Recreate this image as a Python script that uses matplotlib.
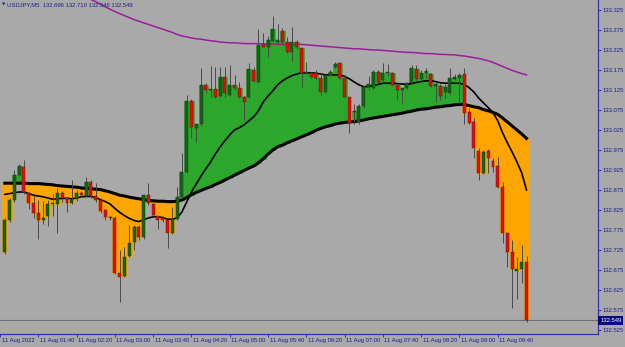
import matplotlib
matplotlib.use("Agg")
import matplotlib.pyplot as plt
import matplotlib.transforms as mtransforms
import numpy as np

# USDJPY M5, 11 Aug 2022, bars from 01:05 to 10:10
opens = [132.721, 132.800, 132.850, 132.912, 132.933, 132.867, 132.842, 132.818, 132.800, 132.810,
         132.840, 132.839, 132.867, 132.854, 132.842, 132.852, 132.867, 132.860, 132.896, 132.860,
         132.850, 132.825, 132.808, 132.804, 132.668, 132.660, 132.710, 132.746, 132.782, 132.757,
         132.862, 132.839, 132.810, 132.806, 132.800, 132.767, 132.802, 132.857, 132.921, 133.098,
         133.031, 133.040, 133.137, 133.125, 133.127, 133.110, 133.157, 133.112, 133.138, 133.130,
         133.107, 133.108, 133.175, 133.146, 133.239, 133.233, 133.248, 133.245, 133.273, 133.246,
         133.221, 133.244, 133.229, 133.167, 133.167, 133.167, 133.154, 133.119, 133.163, 133.183,
         133.192, 133.154, 133.107, 133.070, 133.046, 133.085, 133.132, 133.129, 133.171, 133.150,
         133.168, 133.167, 133.138, 133.125, 133.129, 133.142, 133.177, 133.152, 133.168, 133.165,
         133.135, 133.135, 133.121, 133.118, 133.152, 133.156, 133.165, 133.071, 133.046, 132.973,
         132.918, 132.973, 132.947, 132.935, 132.883, 132.767, 132.721, 132.673, 132.678, 132.696]
highs = [132.805, 132.855, 132.925, 132.940, 132.950, 132.870, 132.862, 132.850, 132.848, 132.850,
         132.865, 132.879, 132.872, 132.858, 132.900, 132.875, 132.872, 132.908, 132.900, 132.893,
         132.856, 132.828, 132.810, 132.810, 132.725, 132.733, 132.787, 132.788, 132.788, 132.866,
         132.892, 132.842, 132.810, 132.810, 132.800, 132.833, 132.883, 132.967, 133.113, 133.102,
         133.040, 133.179, 133.142, 133.185, 133.183, 133.182, 133.182, 133.188, 133.163, 133.146,
         133.110, 133.193, 133.183, 133.277, 133.268, 133.260, 133.310, 133.290, 133.279, 133.258,
         133.283, 133.250, 133.230, 133.196, 133.170, 133.175, 133.167, 133.165, 133.175, 133.195,
         133.195, 133.162, 133.108, 133.090, 133.090, 133.137, 133.160, 133.175, 133.175, 133.192,
         133.190, 133.170, 133.140, 133.130, 133.145, 133.187, 133.187, 133.175, 133.180, 133.167,
         133.145, 133.140, 133.140, 133.179, 133.165, 133.167, 133.179, 133.080, 133.054, 132.979,
         132.975, 132.978, 132.954, 132.957, 132.896, 132.770, 132.750, 132.708, 132.737, 132.710]
lows = [132.715, 132.795, 132.845, 132.910, 132.865, 132.827, 132.804, 132.752, 132.790, 132.785,
        132.810, 132.768, 132.845, 132.820, 132.840, 132.848, 132.858, 132.858, 132.855, 132.846,
        132.818, 132.800, 132.800, 132.665, 132.596, 132.658, 132.708, 132.725, 132.750, 132.752,
        132.838, 132.810, 132.777, 132.795, 132.729, 132.765, 132.800, 132.855, 132.918, 133.004,
        132.996, 133.035, 133.117, 133.108, 133.104, 133.107, 133.108, 133.110, 133.126, 133.104,
        133.050, 133.105, 133.145, 133.143, 133.232, 133.208, 133.246, 133.240, 133.242, 133.217,
        133.198, 133.228, 133.133, 133.165, 133.155, 133.150, 133.112, 133.117, 133.160, 133.180,
        133.150, 133.104, 133.018, 133.040, 133.040, 133.080, 133.125, 133.127, 133.143, 133.148,
        133.160, 133.135, 133.102, 133.093, 133.127, 133.140, 133.150, 133.150, 133.155, 133.132,
        133.096, 133.100, 133.105, 133.115, 133.150, 133.092, 133.040, 133.040, 132.954, 132.900,
        132.915, 132.918, 132.921, 132.879, 132.743, 132.683, 132.579, 132.602, 132.642, 132.546]
closes = [132.800, 132.850, 132.912, 132.935, 132.871, 132.842, 132.818, 132.800, 132.806, 132.839,
          132.842, 132.867, 132.854, 132.842, 132.850, 132.867, 132.862, 132.896, 132.860, 132.850,
          132.822, 132.808, 132.805, 132.667, 132.657, 132.708, 132.742, 132.783, 132.757, 132.862,
          132.842, 132.812, 132.800, 132.800, 132.767, 132.802, 132.857, 132.919, 133.098, 133.033,
          133.040, 133.137, 133.125, 133.127, 133.107, 133.157, 133.117, 133.138, 133.130, 133.107,
          133.096, 133.177, 133.148, 133.237, 133.233, 133.250, 133.277, 133.250, 133.246, 133.221,
          133.246, 133.232, 133.167, 133.170, 133.158, 133.155, 133.119, 133.163, 133.170, 133.190,
          133.154, 133.107, 133.042, 133.072, 133.085, 133.132, 133.140, 133.171, 133.146, 133.168,
          133.170, 133.138, 133.125, 133.129, 133.142, 133.179, 133.152, 133.168, 133.172, 133.135,
          133.140, 133.111, 133.133, 133.154, 133.158, 133.162, 133.068, 133.043, 132.979, 132.918,
          132.971, 132.954, 132.932, 132.883, 132.767, 132.719, 132.677, 132.677, 132.696, 132.549]

# moving averages
ma_fast = [132.864, 132.866, 132.868, 132.870, 132.870, 132.866, 132.862, 132.860, 132.858, 132.855,
           132.852, 132.853, 132.854, 132.854, 132.853, 132.855, 132.858, 132.859, 132.859, 132.856,
           132.851, 132.846, 132.840, 132.829, 132.819, 132.811, 132.804, 132.799, 132.796, 132.801,
           132.805, 132.808, 132.808, 132.806, 132.802, 132.802, 132.805, 132.820, 132.845, 132.870,
           132.890, 132.910, 132.928, 132.945, 132.965, 132.983, 132.998, 133.013, 133.025, 133.031,
           133.038, 133.048, 133.058, 133.073, 133.095, 133.110, 133.123, 133.138, 133.148, 133.155,
           133.161, 133.165, 133.168, 133.168, 133.168, 133.167, 133.165, 133.163, 133.163, 133.163,
           133.163, 133.159, 133.153, 133.145, 133.138, 133.133, 133.134, 133.136, 133.139, 133.142,
           133.142, 133.142, 133.141, 133.140, 133.139, 133.141, 133.144, 133.146, 133.148, 133.148,
           133.146, 133.143, 133.142, 133.142, 133.142, 133.142, 133.139, 133.131, 133.120, 133.105,
           133.093, 133.081, 133.068, 133.048, 133.018, 132.993, 132.970, 132.945, 132.918, 132.875]
ma_slow = [132.892, 132.892, 132.892, 132.892, 132.892, 132.891, 132.891, 132.891, 132.890, 132.889,
           132.888, 132.886, 132.885, 132.884, 132.883, 132.882, 132.880, 132.879, 132.878, 132.877,
           132.876, 132.873, 132.870, 132.866, 132.862, 132.860, 132.857, 132.855, 132.853, 132.851,
           132.849, 132.848, 132.847, 132.847, 132.846, 132.846, 132.847, 132.850, 132.856, 132.863,
           132.869, 132.874, 132.879, 132.883, 132.889, 132.894, 132.900, 132.906, 132.912, 132.918,
           132.924, 132.930, 132.935, 132.943, 132.953, 132.965, 132.975, 132.983, 132.987, 132.993,
           132.998, 133.003, 133.008, 133.013, 133.018, 133.024, 133.029, 133.033, 133.036, 133.040,
           133.042, 133.044, 133.045, 133.046, 133.048, 133.050, 133.053, 133.055, 133.057, 133.059,
           133.061, 133.063, 133.065, 133.067, 133.070, 133.072, 133.075, 133.077, 133.078, 133.080,
           133.082, 133.083, 133.085, 133.086, 133.088, 133.089, 133.089, 133.086, 133.083, 133.081,
           133.076, 133.073, 133.069, 133.064, 133.055, 133.045, 133.035, 133.025, 133.015, 133.004]
ma_long = [np.nan] * 15 + [
           133.370, 133.364, 133.357, 133.351, 133.346,
           133.339, 133.333, 133.327, 133.321, 133.316, 133.311, 133.306, 133.301, 133.297, 133.293,
           133.289, 133.285, 133.281, 133.277, 133.273, 133.269, 133.264, 133.260, 133.258, 133.255,
           133.253, 133.252, 133.250, 133.248, 133.247, 133.245, 133.244, 133.243, 133.243, 133.242,
           133.241, 133.241, 133.241, 133.241, 133.240, 133.240, 133.240, 133.239, 133.239, 133.239,
           133.239, 133.239, 133.239, 133.238, 133.237, 133.236, 133.235, 133.234, 133.233, 133.232,
           133.231, 133.230, 133.229, 133.228, 133.228, 133.227, 133.226, 133.225, 133.225, 133.224,
           133.223, 133.222, 133.221, 133.220, 133.219, 133.219, 133.218, 133.217, 133.216, 133.216,
           133.215, 133.214, 133.214, 133.213, 133.213, 133.211, 133.210, 133.208, 133.206, 133.204,
           133.201, 133.198, 133.194, 133.189, 133.184, 133.179, 133.174, 133.170, 133.166, 133.163]

price_ticks = [132.525, 132.575, 132.625, 132.675, 132.725, 132.775, 132.825, 132.875, 132.925,
               132.975, 133.025, 133.075, 133.125, 133.175, 133.225, 133.275, 133.325]
time_tick_bars = [-1, 7, 15, 23, 31, 39, 47, 55, 63, 71, 79, 87, 95, 103]
time_labels = ['11 Aug 2022', '11 Aug 01:40', '11 Aug 02:20', '11 Aug 03:00', '11 Aug 03:40',
               '11 Aug 04:20', '11 Aug 05:00', '11 Aug 05:40', '11 Aug 06:20', '11 Aug 07:00',
               '11 Aug 07:40', '11 Aug 08:20', '11 Aug 09:00', '11 Aug 09:40']
title = 'USDJPY,M5  132.696 132.710 132.546 132.549'

bg = '#A9A9A9'
navy = '#1E1E8C'
axis_blue = '#3333B0'
fnt = ['Liberation Sans Narrow', 'Liberation Sans', 'DejaVu Sans']
fs = 4.2

o = np.array(opens)
h = np.array(highs)
l = np.array(lows)
c = np.array(closes)
slow = np.array(ma_slow)
x = np.arange(len(c))

fig = plt.figure(figsize=(6.25, 3.47), dpi=100, facecolor=bg)
ax = fig.add_axes([0, 13 / 347, 598.3 / 625, 334 / 347])
ax.set_facecolor(bg)

# cloud histogram between the slow MA and the candle body
up = c > slow
top = np.where(up, np.maximum(o, c), np.minimum(o, c))
cols = np.where(up, '#2BA82B', '#FFA500')
ax.bar(x, top - slow, bottom=slow, width=1.0, color=cols, edgecolor=cols, linewidth=0.4, zorder=1)

ax.plot(x, ma_long, color='#9A1E9A', lw=1.1, zorder=2)
ax.plot(x, ma_slow, color='black', lw=2.2, zorder=2)
ax.plot(x, ma_fast, color='black', lw=1.2, zorder=2)

# candles
ax.vlines(x, l, h, color='#4A4A4A', lw=0.7, zorder=3)
body_col = np.where(c >= o, '#0B6B0B', '#FF0000')
body_h = np.maximum(np.abs(c - o), 0.0015)
ax.bar(x, body_h, bottom=np.minimum(o, c), width=0.62, color=body_col,
       edgecolor='#303030', linewidth=0.35, zorder=4)

# bid line
ax.axhline(closes[-1], color='#707070', lw=0.8, zorder=1)

ax.set_xlim(-0.43, 124.0)
ax.set_ylim(132.515, 133.35)

for s in ['top', 'left']:
    ax.spines[s].set_visible(False)
for s in ['right', 'bottom']:
    ax.spines[s].set_color(axis_blue)
    ax.spines[s].set_linewidth(0.9)

ax.yaxis.tick_right()
ax.set_yticks(price_ticks)
ax.set_yticklabels([f'{p:.3f}' for p in price_ticks], fontsize=fs, color=navy, family=fnt)
ax.tick_params(axis='y', length=2, width=0.7, color=axis_blue, pad=1.2)

ax.set_xticks(time_tick_bars)
ax.set_xticklabels([])
ax.tick_params(axis='x', length=2.5, width=0.7, color=axis_blue)
for b, lab in zip(time_tick_bars, time_labels):
    ax.annotate(lab, xy=(b, 0), xycoords=('data', 'axes fraction'), xytext=(1.5, -4),
                textcoords='offset pixels', ha='left', va='top', fontsize=fs, color=navy,
                family=fnt, annotation_clip=False)

# bid price tag
trans = mtransforms.blended_transform_factory(ax.transAxes, ax.transData)
ax.text(1.003, closes[-1], f'{closes[-1]:.3f}', transform=trans, ha='left', va='center',
        fontsize=fs, color='white', family=fnt,
        bbox=dict(boxstyle='square,pad=0.3', facecolor='#0A0A80', edgecolor='none'), zorder=10)

fig.text(0.003, 1 - 5 / 347, '\u25bc', fontsize=3, color=navy, va='center', ha='left')
fig.text(0.011, 1 - 5 / 347, title, fontsize=fs, color=navy, va='center', ha='left', family=fnt)

fig.savefig('out.png', dpi=100, facecolor=bg)
